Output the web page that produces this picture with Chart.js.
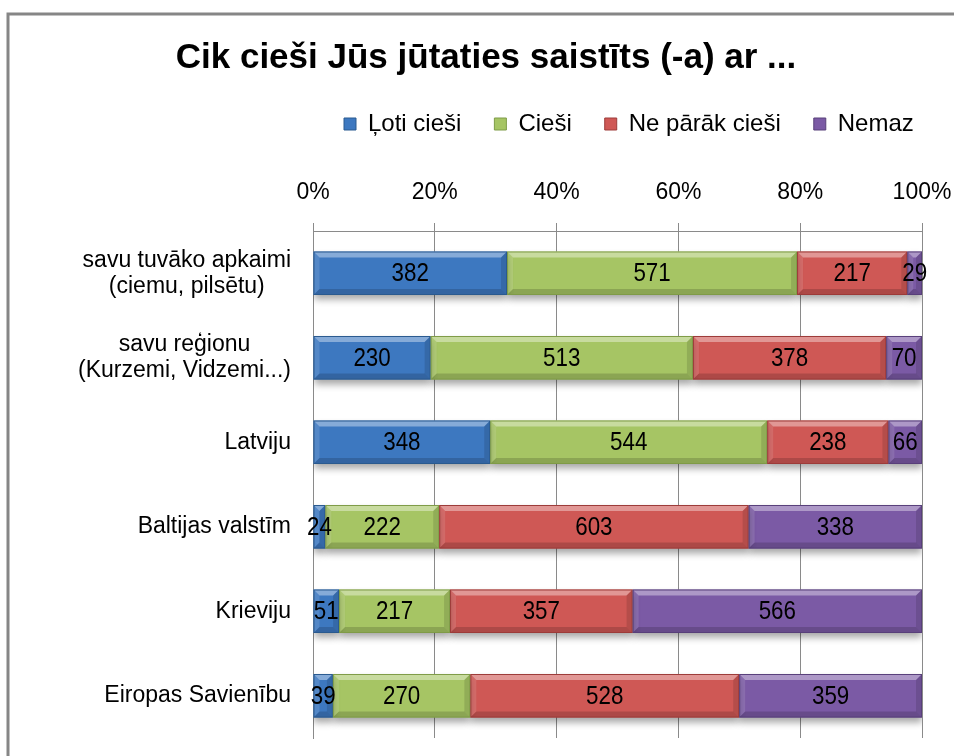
<!DOCTYPE html>
<html>
<head>
<meta charset="utf-8">
<script src="https://cdn.jsdelivr.net/npm/chart.js@4.4.1/dist/chart.umd.min.js"></script>
<style>
  html, body { margin: 0; padding: 0; background: #ffffff; }
  #wrap { width: 954px; height: 756px; }
</style>
</head>
<body>
<div id="wrap"><canvas id="c" width="954" height="756"></canvas></div>
<script>
// ---- data ----
const categories = [
  ["savu tuvāko apkaimi", "(ciemu, pilsētu)"],
  ["savu reģionu", "(Kurzemi, Vidzemi...)"],
  "Latviju",
  "Baltijas valstīm",
  "Krieviju",
  "Eiropas Savienību"
];
const seriesNames = ["Ļoti cieši", "Cieši", "Ne pārāk cieši", "Nemaz"];
const lotiCiesi    = [382, 230, 348, 24, 51, 39];
const ciesi        = [571, 513, 544, 222, 217, 270];
const neParakCiesi = [217, 378, 238, 603, 357, 528];
const nemaz        = [29, 70, 66, 338, 566, 359];
const tickValues   = [0, 20, 40, 60, 80, 100];
const titleText    = "Cik cieši Jūs jūtaties saistīts (-a) ar ...";

// ---- styles ----
const FONT = "'Liberation Sans', Arial, Helvetica, sans-serif";
const fills   = ["#3d78c0", "#a6c564", "#cf5855", "#7b5aa5"];
const borders = ["#2b5a90", "#7f9c48", "#9d3c3a", "#58407a"];

const raw = [lotiCiesi, ciesi, neParakCiesi, nemaz];
const totals = categories.map((_, i) => raw.reduce((s, arr) => s + arr[i], 0));
const pct = raw.map(arr => arr.map((v, i) => v / totals[i] * 100));

Chart.defaults.font.family = FONT;
Chart.defaults.color = "#000000";

const framePlugin = {
  id: "frame",
  beforeDraw(chart) {
    const ctx = chart.ctx;
    ctx.save();
    ctx.fillStyle = "#ffffff";
    ctx.fillRect(0, 0, chart.width, chart.height);
    ctx.strokeStyle = "#868686";
    ctx.lineWidth = 3;
    ctx.beginPath();
    ctx.moveTo(8, chart.height + 2);
    ctx.lineTo(8, 14);
    ctx.lineTo(chart.width + 2, 14);
    ctx.stroke();
    ctx.restore();
  }
};

const legendPlace = {
  id: "legendPlace",
  afterLayout(chart) {
    const lg = chart.legend;
    const p = chart.options.plugins.legend.labels.padding;
    lg.left = chart.chartArea.left + 31 - p;
    lg.right = chart.width + 200;
  }
};

const shadowPlugin = {
  id: "barShadow",
  beforeDatasetsDraw(chart) {
    const ctx = chart.ctx;
    ctx.save();
    ctx.shadowColor = "rgba(0,0,0,0.35)";
    ctx.shadowOffsetY = 5;
    ctx.shadowOffsetX = 0;
    ctx.shadowBlur = 7;
  },
  afterDatasetsDraw(chart) {
    const ctx = chart.ctx;
    ctx.restore();
    // bevel overlay
    chart.data.datasets.forEach((ds, di) => {
      const meta = chart.getDatasetMeta(di);
      meta.data.forEach(el => {
        const p = el.getProps(["x", "y", "base", "height"], true);
        const l = Math.min(p.x, p.base), r = Math.max(p.x, p.base);
        const t = p.y - p.height / 2, b = p.y + p.height / 2;
        const bv = Math.min(6, (r - l) / 2);
        const poly = (pts, col) => {
          ctx.beginPath();
          ctx.moveTo(pts[0][0], pts[0][1]);
          for (let k = 1; k < pts.length; k++) ctx.lineTo(pts[k][0], pts[k][1]);
          ctx.closePath();
          ctx.fillStyle = col;
          ctx.fill();
        };
        ctx.save();
        poly([[l, t], [r, t], [r - bv, t + bv], [l + bv, t + bv]], "rgba(255,255,255,0.38)");
        poly([[l, t], [l + bv, t + bv], [l + bv, b - bv], [l, b]], "rgba(255,255,255,0.12)");
        poly([[l, b], [l + bv, b - bv], [r - bv, b - bv], [r, b]], "rgba(0,0,0,0.16)");
        poly([[r, t], [r, b], [r - bv, b - bv], [r - bv, t + bv]], "rgba(0,0,0,0.12)");
        ctx.strokeStyle = borders[di];
        ctx.lineWidth = 1;
        ctx.strokeRect(l + 0.5, t + 0.5, r - l - 1, b - t - 1);
        ctx.restore();
      });
    });
    // value labels
    ctx.save();
    ctx.fillStyle = "#000000";
    ctx.textAlign = "center";
    ctx.textBaseline = "middle";
    ctx.font = "26px " + FONT;
    chart.data.datasets.forEach((ds, di) => {
      const meta = chart.getDatasetMeta(di);
      meta.data.forEach((el, i) => {
        const c = el.getCenterPoint();
        ctx.save();
        ctx.translate(c.x, c.y + 1);
        ctx.scale(0.86, 1);
        ctx.fillText(String(raw[di][i]), 0, 0);
        ctx.restore();
      });
    });
    ctx.restore();
  }
};

const catLabels = {
  id: "catLabels",
  afterDraw(chart) {
    const ctx = chart.ctx;
    const ys = chart.scales.y;
    const rightEdge = chart.chartArea.left - 22;
    ctx.save();
    ctx.fillStyle = "#000000";
    ctx.font = "23px " + FONT;
    ctx.textAlign = "center";
    ctx.textBaseline = "middle";
    categories.forEach((cat, i) => {
      const lines = Array.isArray(cat) ? cat : [cat];
      const w = Math.max(...lines.map(s => ctx.measureText(s).width));
      const cx = rightEdge - w / 2;
      const y = ys.getPixelForValue(i);
      const lh = 26;
      lines.forEach((s, k) => {
        ctx.fillText(s, cx, y - (lines.length - 1) * lh / 2 + k * lh);
      });
    });
    ctx.restore();
  }
};

new Chart(document.getElementById("c"), {
  type: "bar",
  data: {
    labels: categories,
    datasets: seriesNames.map((name, i) => ({
      label: name,
      data: pct[i],
      backgroundColor: fills[i],
      borderColor: borders[i],
      borderWidth: 0,
      barPercentage: 0.515,
      categoryPercentage: 1.0
    }))
  },
  options: {
    indexAxis: "y",
    responsive: false,
    animation: false,
    layout: { padding: { left: 50, right: 32, top: 20, bottom: 18 } },
    scales: {
      x: {
        position: "top",
        stacked: true,
        min: 0,
        max: 100,
        afterBuildTicks(scale) { scale.ticks = tickValues.map(v => ({ value: v })); },
        ticks: {
          callback: v => v + "%",
          font: { size: 23 },
          color: "#000000",
          padding: 17
        },
        grid: { color: "#8a8a8a", lineWidth: 1, tickLength: 8, tickColor: "#8a8a8a" },
        border: { color: "#8a8a8a", width: 1 },
        afterFit(scale) { scale.height = 85; scale.paddingLeft = 0; scale.paddingRight = 0; }
      },
      y: {
        stacked: true,
        ticks: { display: false },
        grid: { display: false },
        border: { display: true, color: "#8a8a8a", width: 1 },
        afterFit(scale) { scale.width = 263; }
      }
    },
    plugins: {
      title: {
        display: true,
        text: titleText,
        color: "#000000",
        font: { size: 35, weight: "bold" },
        padding: { top: 17, bottom: 0 }
      },
      legend: {
        display: true,
        position: "top",
        align: "start",
        labels: {
          boxWidth: 12,
          boxHeight: 12,
          padding: 33,
          color: "#000000",
          font: { size: 24 },
          generateLabels(chart) {
            return seriesNames.map((n, i) => ({
              text: n, fillStyle: fills[i], strokeStyle: borders[i], lineWidth: 1, datasetIndex: i
            }));
          }
        }
      },
      tooltip: { enabled: false }
    }
  },
  plugins: [framePlugin, legendPlace, shadowPlugin, catLabels]
});
</script>
</body>
</html>
